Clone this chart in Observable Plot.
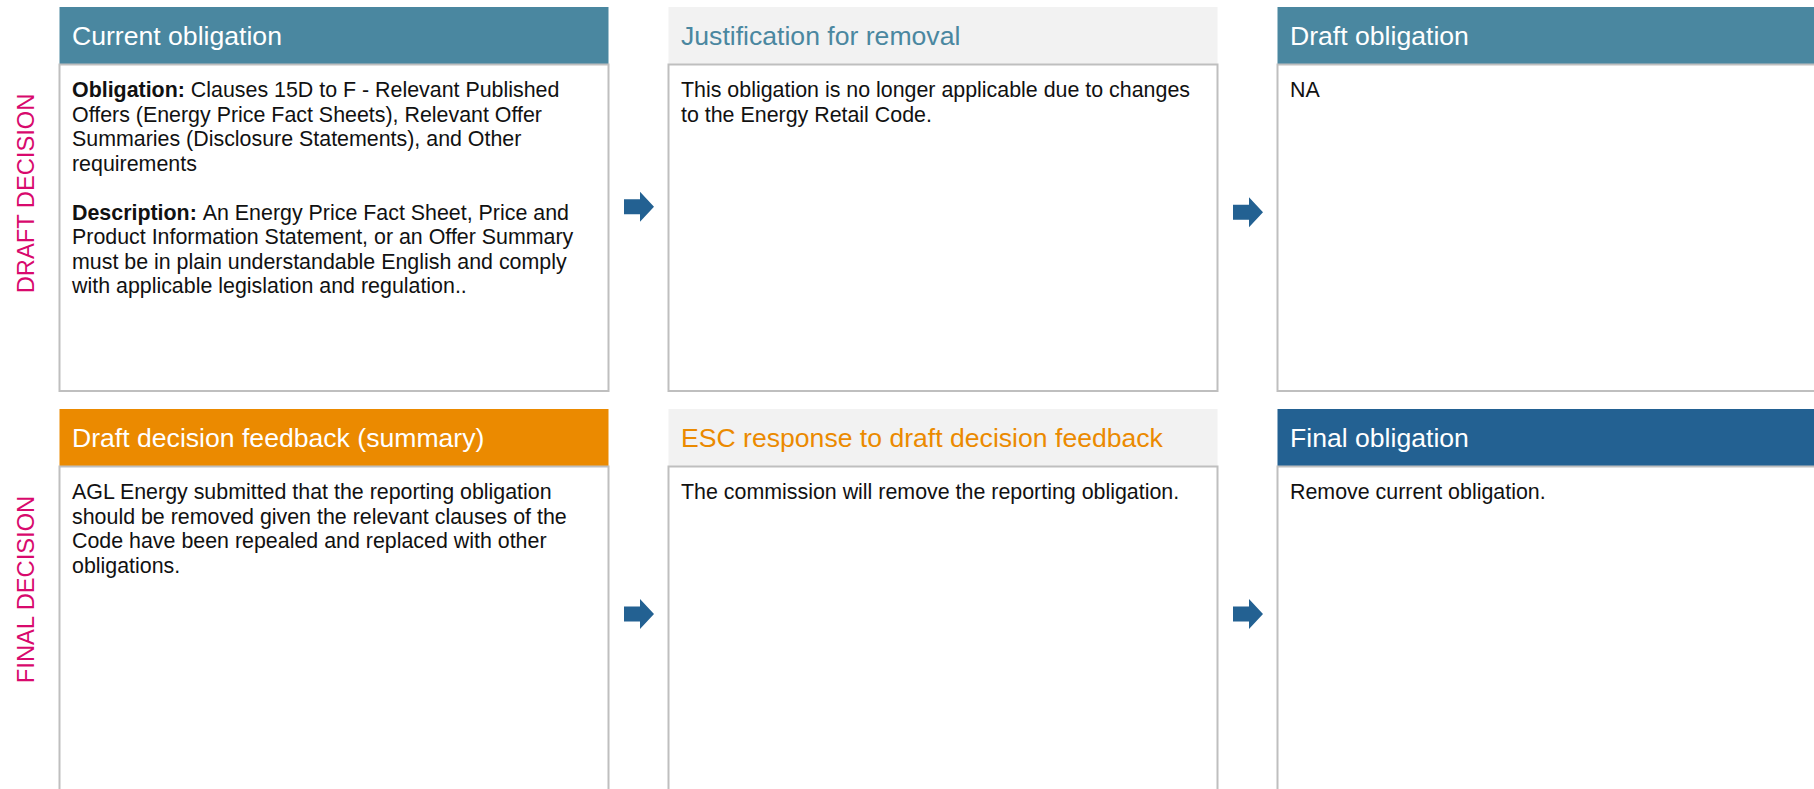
<!DOCTYPE html>
<html>
<head>
<meta charset="utf-8">
<script src="https://cdn.jsdelivr.net/npm/d3@7"></script>
<script src="https://cdn.jsdelivr.net/npm/@observablehq/plot@0.6"></script>
<style>
  html, body { margin: 0; padding: 0; background: #ffffff; }
  #chart { width: 1814px; height: 789px; overflow: hidden; }
</style>
</head>
<body>
<div id="chart"></div>
<script>
// ---------------- data ----------------
const rowLabels = ["DRAFT DECISION", "FINAL DECISION"];

const headerTitles = [
  ["Current obligation", "Justification for removal", "Draft obligation"],
  ["Draft decision feedback (summary)", "ESC response to draft decision feedback", "Final obligation"]
];

const boldLabels = ["Obligation:", "Description:"];

const bodyLines = [
  [
    [
      "Obligation: Clauses 15D to F - Relevant Published",
      "Offers (Energy Price Fact Sheets), Relevant Offer",
      "Summaries (Disclosure Statements), and Other",
      "requirements",
      "",
      "Description: An Energy Price Fact Sheet, Price and",
      "Product Information Statement, or an Offer Summary",
      "must be in plain understandable English and comply",
      "with applicable legislation and regulation.."
    ],
    [
      "This obligation is no longer applicable due to changes",
      "to the Energy Retail Code."
    ],
    ["NA"]
  ],
  [
    [
      "AGL Energy submitted that the reporting obligation",
      "should be removed given the relevant clauses of the",
      "Code have been repealed and replaced with other",
      "obligations."
    ],
    ["The commission will remove the reporting obligation."],
    ["Remove current obligation."]
  ]
];

// flow arrows: [row, fromColumn]
const arrows = [[0, 0], [0, 1], [1, 0], [1, 1]];

// ---------------- styles & layout ----------------
const W = 1814, H = 789;
const FONT = "'Liberation Sans', Arial, Helvetica, sans-serif";
const HEAD_FS = 26.6, BODY_FS = 21.4, LABEL_FS = 23.7, LH = 24.5;
const COL_X0 = 59.5, COL_PITCH = 609, COL_W = 549;
const ROW_Y0 = 7, ROW_PITCH = 402, HEAD_H = 57.5, BODY_H = 326.5;
const PAD_X = 12, HEAD_BASE = 37, BODY_BASE = 32.3;
const LABEL_X = 25.5, LABEL_CY = [193, 589];
const ARROW_CY = [[206.3, 211.7], [613.5, 613.5]];
const TEAL = "#4a87a0", ORANGE = "#eb8a00", BLUE = "#236192", GREY = "#f2f2f2", PINK = "#d8096d";
const headerFill = [[TEAL, GREY, TEAL], [ORANGE, GREY, BLUE]];
const headerInk = [["#ffffff", TEAL, "#ffffff"], ["#ffffff", ORANGE, "#ffffff"]];

const colX = c => COL_X0 + c * COL_PITCH;
const rowY = r => ROW_Y0 + r * ROW_PITCH;

// panels
const panels = [];
headerTitles.forEach((row, r) => row.forEach((title, c) => panels.push({r, c, title})));

// measure bold prefixes
const ctx = document.createElement("canvas").getContext("2d");
function textWidth(s, bold) {
  ctx.font = `${bold ? "bold " : ""}${BODY_FS}px ${FONT}`;
  return ctx.measureText(s).width;
}

// text runs
const runs = [];
bodyLines.forEach((row, r) => row.forEach((lines, c) => lines.forEach((line, i) => {
  if (!line) return;
  let offset = 0, rest = line;
  const label = boldLabels.find(b => line.startsWith(b));
  if (label) {
    runs.push({r, c, i, offset: 0, text: label, bold: true});
    offset = textWidth(label + " ", true);
    rest = line.slice(label.length + 1);
  }
  runs.push({r, c, i, offset, text: rest, bold: false});
})));

const arrowSymbol = {
  draw(context, size) {
    const r = Math.sqrt(size / Math.PI);
    const k = 0.067 * r;
    context.moveTo(-r, -0.5 * r);
    context.lineTo(k, -0.5 * r);
    context.lineTo(k, -r);
    context.lineTo(r, 0);
    context.lineTo(k, r);
    context.lineTo(k, 0.5 * r);
    context.lineTo(-r, 0.5 * r);
    context.closePath();
  }
};

const chart = Plot.plot({
  width: W,
  height: H,
  margin: 0,
  x: {type: "linear", domain: [0, W], range: [0, W], axis: null},
  y: {type: "linear", domain: [0, H], range: [0, H], axis: null},
  color: {type: "identity"},
  style: {fontFamily: FONT, background: "#ffffff", overflow: "hidden"},
  marks: [
    // headers
    Plot.rect(panels, {
      x1: d => colX(d.c), x2: d => colX(d.c) + COL_W,
      y1: d => rowY(d.r), y2: d => rowY(d.r) + HEAD_H,
      fill: d => headerFill[d.r][d.c]
    }),
    // bodies
    Plot.rect(panels, {
      x1: d => colX(d.c), x2: d => colX(d.c) + COL_W,
      y1: d => rowY(d.r) + HEAD_H, y2: d => rowY(d.r) + HEAD_H + BODY_H,
      fill: "#ffffff", stroke: "#bfbfbf", strokeWidth: 2
    }),
    // header titles
    Plot.text(panels, {
      x: d => colX(d.c) + PAD_X, y: d => rowY(d.r) + HEAD_BASE,
      text: "title", fill: d => headerInk[d.r][d.c],
      fontSize: HEAD_FS, textAnchor: "start", lineAnchor: "bottom", fontFamily: FONT
    }),
    // body text (regular)
    Plot.text(runs.filter(d => !d.bold), {
      x: d => colX(d.c) + PAD_X + d.offset,
      y: d => rowY(d.r) + HEAD_H + BODY_BASE + d.i * LH,
      text: "text", fill: "#111111",
      fontSize: BODY_FS, textAnchor: "start", lineAnchor: "bottom", fontFamily: FONT
    }),
    // body text (bold labels)
    Plot.text(runs.filter(d => d.bold), {
      x: d => colX(d.c) + PAD_X + d.offset,
      y: d => rowY(d.r) + HEAD_H + BODY_BASE + d.i * LH,
      text: "text", fill: "#111111", fontWeight: "bold",
      fontSize: BODY_FS, textAnchor: "start", lineAnchor: "bottom", fontFamily: FONT
    }),
    // row labels
    Plot.text(rowLabels, {
      x: () => LABEL_X, y: (d, i) => LABEL_CY[i], text: d => d,
      rotate: -90, fill: PINK, fontSize: LABEL_FS,
      textAnchor: "middle", lineAnchor: "middle", fontFamily: FONT
    }),
    // flow arrows
    Plot.dot(arrows, {
      x: d => colX(d[1]) + COL_W + (COL_PITCH - COL_W) / 2,
      y: d => ARROW_CY[d[0]][d[1]],
      r: 15, symbol: arrowSymbol, fill: BLUE, stroke: "none"
    })
  ]
});

document.getElementById("chart").appendChild(chart);
</script>
</body>
</html>
